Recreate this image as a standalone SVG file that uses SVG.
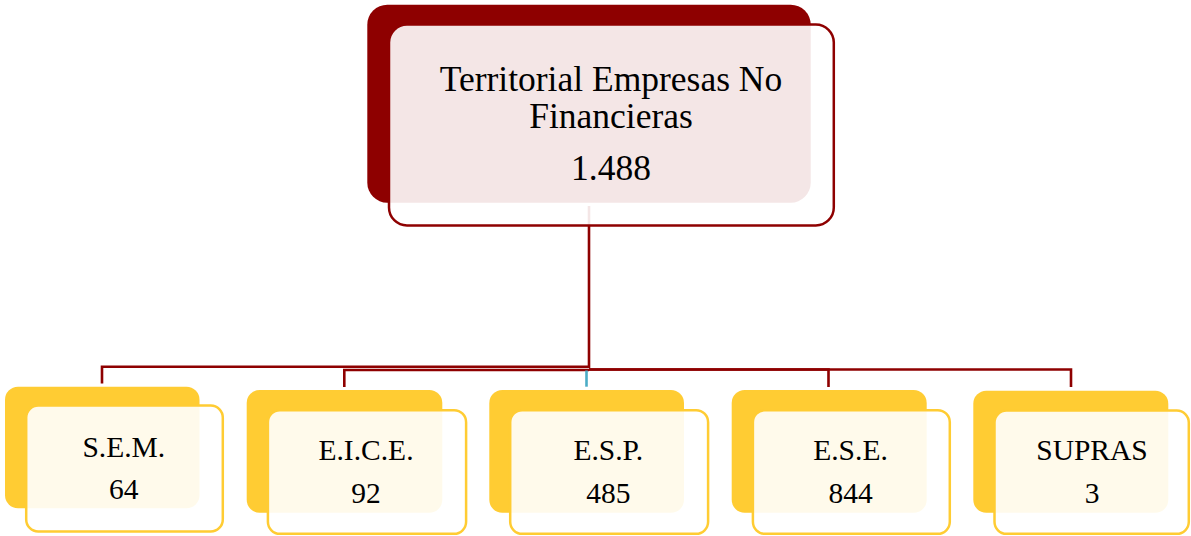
<svg xmlns="http://www.w3.org/2000/svg" width="1191" height="536" viewBox="0 0 1191 536">
  <style>
    .conn { fill: none; stroke: #8E0000; stroke-width: 2.6; }
    .conn-esp { fill: none; stroke: #4BACC6; stroke-width: 2.6; }
    .top-back { fill: #8E0000; }
    .top-front { fill: #FFFFFF; fill-opacity: 0.9; stroke: #8E0000; stroke-width: 2.5; }
    .bot-back { fill: #FFCC33; }
    .bot-front { fill: #FFFFFF; fill-opacity: 0.9; stroke: #FFCC33; stroke-width: 2.5; }
    .t-top { font-family: "Liberation Serif", "Times New Roman", serif; font-size: 35.5px; fill: #000000; text-anchor: middle; }
    .t-bot { font-family: "Liberation Serif", "Times New Roman", serif; font-size: 29.5px; fill: #000000; text-anchor: middle; }
  </style>
  <rect width="1191" height="536" fill="#FFFFFF"/>
  <g id="connectors">
    <polyline class="conn" points="589,206 589,366.7 102,366.7 102,383.5"/>
    <polyline class="conn" points="589,370 344.3,370 344.3,387"/>
    <polyline class="conn" points="589,369.5 828.5,369.5 828.5,387"/>
    <polyline class="conn" points="589,369.5 1071,369.5 1071,387"/>
    <line class="conn-esp" x1="586.5" y1="370.5" x2="586.5" y2="386.7"/>
  </g>
  <g id="node-top">
    <rect class="top-back" x="367.3" y="4.7" width="443.4" height="198" rx="20"/>
    <rect class="top-front" x="389" y="24.6" width="444.8" height="200.8" rx="18"/>
    <text class="t-top" x="611" y="90.7">Territorial Empresas No</text>
    <text class="t-top" x="611" y="128">Financieras</text>
    <text class="t-top" x="611" y="180">1.488</text>
  </g>
  <g id="node-sem">
    <rect class="bot-back" x="5" y="386.7" width="194.5" height="121.6" rx="13"/>
    <rect class="bot-front" x="26.2" y="405.5" width="196.6" height="126" rx="12"/>
    <text class="t-bot" x="123.8" y="456.7">S.E.M.</text>
    <text class="t-bot" x="123.8" y="498.5">64</text>
  </g>
  <g id="node-eice">
    <rect class="bot-back" x="246.7" y="390" width="195.6" height="122.7" rx="13"/>
    <rect class="bot-front" x="267.9" y="410.2" width="198.2" height="123.6" rx="12"/>
    <text class="t-bot" x="366" y="460">E.I.C.E.</text>
    <text class="t-bot" x="366" y="503">92</text>
  </g>
  <g id="node-esp">
    <rect class="bot-back" x="489.3" y="390" width="194.7" height="122.7" rx="13"/>
    <rect class="bot-front" x="510.2" y="410.2" width="197.9" height="123.6" rx="12"/>
    <text class="t-bot" x="608.3" y="460">E.S.P.</text>
    <text class="t-bot" x="608.3" y="503">485</text>
  </g>
  <g id="node-ese">
    <rect class="bot-back" x="731.7" y="390" width="195" height="122.7" rx="13"/>
    <rect class="bot-front" x="752.9" y="410.2" width="196.9" height="123.6" rx="12"/>
    <text class="t-bot" x="850.5" y="460">E.S.E.</text>
    <text class="t-bot" x="850.5" y="503">844</text>
  </g>
  <g id="node-supras">
    <rect class="bot-back" x="973.3" y="390.7" width="195" height="122" rx="13"/>
    <rect class="bot-front" x="994.5" y="410.5" width="194.3" height="123.3" rx="12"/>
    <text class="t-bot" x="1092" y="460">SUPRAS</text>
    <text class="t-bot" x="1092" y="502.7">3</text>
  </g>
</svg>
